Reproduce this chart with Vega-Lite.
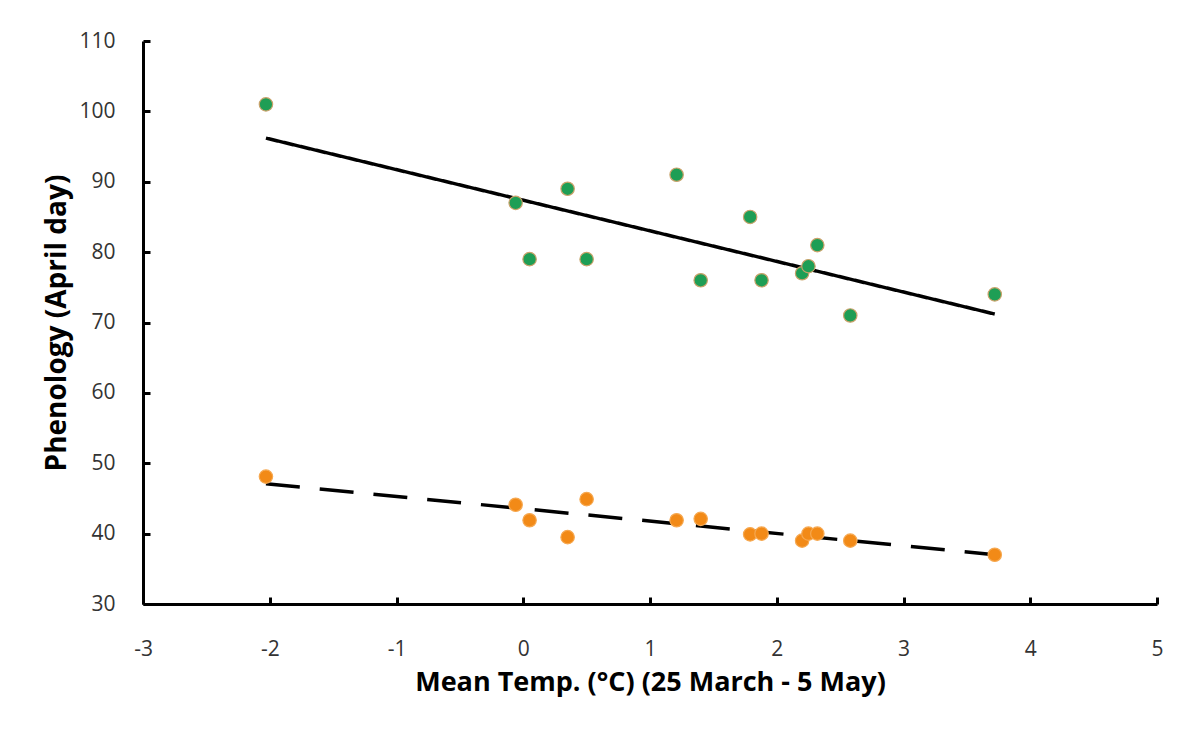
{
  "$schema": "https://vega.github.io/schema/vega-lite/v6.json",
  "autosize": "none",
  "width": 1014,
  "height": 563,
  "padding": {"left": 143, "top": 41, "right": 30, "bottom": 127},
  "background": "white",
  "config": {
    "view": {"stroke": null},
    "font": "Open Sans",
    "axis": {
      "grid": false,
      "domainColor": "black",
      "domainWidth": 3,
      "tickColor": "black",
      "tickWidth": 3,
      "tickSize": -7,
      "labelFont": "Open Sans",
      "labelFontSize": 21,
      "labelColor": "#333333",
      "titleFont": "Open Sans",
      "titleFontSize": 27,
      "titleFontWeight": "bold",
      "titleColor": "black"
    }
  },
  "datasets": {
    "points": [
      {"temp": -2.03, "day": 101, "stage": "late"},
      {"temp": -0.06, "day": 87, "stage": "late"},
      {"temp": 0.05, "day": 79, "stage": "late"},
      {"temp": 0.35, "day": 89, "stage": "late"},
      {"temp": 0.50, "day": 79, "stage": "late"},
      {"temp": 1.21, "day": 91, "stage": "late"},
      {"temp": 1.40, "day": 76, "stage": "late"},
      {"temp": 1.79, "day": 85, "stage": "late"},
      {"temp": 1.88, "day": 76, "stage": "late"},
      {"temp": 2.20, "day": 77, "stage": "late"},
      {"temp": 2.25, "day": 78, "stage": "late"},
      {"temp": 2.32, "day": 81, "stage": "late"},
      {"temp": 2.58, "day": 71, "stage": "late"},
      {"temp": 3.72, "day": 74, "stage": "late"},
      {"temp": -2.03, "day": 48.1, "stage": "early"},
      {"temp": -0.06, "day": 44.1, "stage": "early"},
      {"temp": 0.05, "day": 41.9, "stage": "early"},
      {"temp": 0.35, "day": 39.5, "stage": "early"},
      {"temp": 0.50, "day": 44.9, "stage": "early"},
      {"temp": 1.21, "day": 41.9, "stage": "early"},
      {"temp": 1.40, "day": 42.1, "stage": "early"},
      {"temp": 1.79, "day": 39.9, "stage": "early"},
      {"temp": 1.88, "day": 40, "stage": "early"},
      {"temp": 2.20, "day": 39, "stage": "early"},
      {"temp": 2.25, "day": 40, "stage": "early"},
      {"temp": 2.32, "day": 40, "stage": "early"},
      {"temp": 2.58, "day": 39, "stage": "early"},
      {"temp": 3.72, "day": 37, "stage": "early"}
    ],
    "fits": [
      {"temp": -2.03, "day": 96.2, "stage": "late"},
      {"temp": 3.72, "day": 71.2, "stage": "late"},
      {"temp": -2.03, "day": 47.1, "stage": "early"},
      {"temp": 3.72, "day": 37.0, "stage": "early"}
    ]
  },
  "encoding": {
    "x": {
      "field": "temp", "type": "quantitative",
      "scale": {"domain": [-3, 5], "nice": false, "zero": false},
      "axis": {"values": [-3, -2, -1, 0, 1, 2, 3, 4, 5], "labelExpr": "toString(datum.value)", "labelPadding": 41, "title": "Mean Temp. (°C) (25 March - 5 May)", "titleFontSize": 27, "titlePadding": 10, "labelFlush": false, "labelOverlap": false}
    },
    "y": {
      "field": "day", "type": "quantitative",
      "scale": {"domain": [30, 110], "nice": false, "zero": false},
      "axis": {"values": [30, 40, 50, 60, 70, 80, 90, 100, 110], "labelPadding": 35, "title": "Phenology (April day)", "titleFontSize": 28, "titlePadding": 7, "labelFlush": false, "labelOverlap": false}
    }
  },
  "layer": [
    {
      "data": {"name": "fits"},
      "mark": {"type": "line", "color": "black", "strokeWidth": 3.5, "strokeCap": "butt"},
      "encoding": {
        "detail": {"field": "stage", "type": "nominal"},
        "strokeDash": {
          "field": "stage", "type": "nominal",
          "scale": {"domain": ["late", "early"], "range": [[1, 0], [34, 20]]},
          "legend": null
        }
      }
    },
    {
      "data": {"name": "points"},
      "mark": {"type": "point", "filled": true, "shape": "circle", "size": 180, "opacity": 1, "strokeWidth": 1.2},
      "encoding": {
        "fill": {
          "field": "stage", "type": "nominal",
          "scale": {"domain": ["late", "early"], "range": ["#1e9e55", "#f28a17"]},
          "legend": null
        },
        "stroke": {
          "field": "stage", "type": "nominal",
          "scale": {"domain": ["late", "early"], "range": ["#c9a26a", "#f6a850"]},
          "legend": null
        }
      }
    }
  ]
}
